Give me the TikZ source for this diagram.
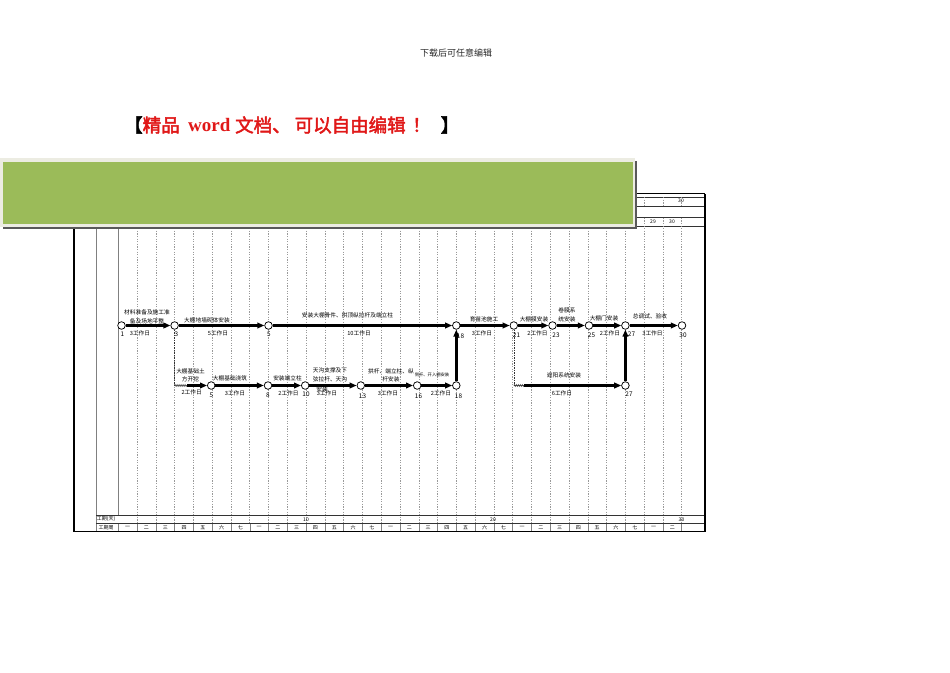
\documentclass[tikz,border=0pt]{standalone}
\usepackage{fontspec}
\newfontfamily\cjk{Noto Sans CJK SC}
\newfontfamily\cjkb[FakeBold=2.5]{Noto Sans CJK SC}
\newfontfamily\tnr{Liberation Serif}
\usetikzlibrary{arrows.meta,decorations.pathmorphing}
\definecolor{bannergreen}{HTML}{9BBB59}
\definecolor{bannerrim}{HTML}{ECECE2}
\definecolor{titlered}{HTML}{E01818}
\definecolor{gridgray}{HTML}{9A9A9A}
\begin{document}
\begin{tikzpicture}[x=1pt,y=-1pt,
  gridline/.style={gridgray, line width=0.55pt, dash pattern=on 1.3pt off 1.3pt},
  framethick/.style={black, line width=1.4pt},
  framethin/.style={black!80, line width=0.55pt},
  colline/.style={gray, line width=0.8pt},
  evt/.style={circle, draw, fill=white, line width=0.75pt, minimum size=7.6pt, inner sep=0pt},
  act/.style={line width=2.4pt, -{Triangle[length=7pt,width=5.6pt]}},
  dummy/.style={black!80, line width=0.6pt, dash pattern=on 1.5pt off 1pt},
  wave/.style={black!80, line width=0.6pt, decorate, decoration={zigzag, segment length=2pt, amplitude=0.9pt}},
  lbl/.style={font=\cjk\fontsize{5.7}{8.6}\selectfont, inner sep=0pt, align=center},
  tinylbl/.style={font=\cjk\fontsize{4.3}{5}\selectfont, inner sep=0pt},
  num/.style={font=\cjk\fontsize{6.4}{7}\selectfont, inner sep=0pt},
  axislbl/.style={font=\cjk\fontsize{5}{6}\selectfont, inner sep=0pt},
  ttl/.style={font=\cjkb\fontsize{18.5}{19}\selectfont, inner sep=0pt, anchor=west, text=titlered}
]
\useasboundingbox (0,0) rectangle (950,672);

% header and title
\node[font=\cjk\fontsize{9}{9}\selectfont, text=black!85] (hdr) at (456,53) {下载后可任意编辑};
\node[ttl, text=black] (tA) at (124,125) {【};
\node[ttl] (tB) at (142.5,125) {精品};
\node[ttl, font=\tnr\bfseries\fontsize{19}{19}\selectfont] (tC) at (188,124.5) {word};
\node[ttl] (tD) at (235,125) {文档、};
\node[ttl] (tE) at (294.5,125) {可以自由编辑};
\node[ttl] (tF) at (412,125) {！};
\node[ttl, text=black] (tG) at (440.5,125) {】};

% table frame
\draw[framethin] (74,197) -- (705,197);
\draw[framethin] (74,206.5) -- (705,206.5);
\draw[framethin] (74,217.7) -- (705,217.7);
\draw[framethin] (74,226) -- (705,226);
\foreach \k in {1,...,30}{
  \draw[gridline] ({118.3+\k*18.78},197) -- ({118.3+\k*18.78},206.5);
  \draw[gridline] ({118.3+\k*18.78},217.7) -- ({118.3+\k*18.78},523.3);
  \draw[gray, line width=0.5pt] ({118.3+\k*18.78},523.3) -- ({118.3+\k*18.78},531);
}
\draw[colline] (96,193.5) -- (96,531);
\draw[colline] (118.7,193.5) -- (118.7,515.5);
\draw[colline] (118.7,523.3) -- (118.7,531);
\draw[framethin] (96,515.5) -- (705,515.5);
\draw[framethin] (96,523.3) -- (705,523.3);
\draw[framethick] (74,193.5) -- (705,193.5);
\draw[framethick] (74,193.5) -- (74,531.5) -- (705,531.5) -- (705,193.5);

% header numbers (visible part)
\node[axislbl] (h30a) at (681,201) {30};
\node[axislbl] (h29) at (653,221.5) {29};
\node[axislbl] (h30b) at (672,221.5) {30};

% bottom axis
\node[axislbl] (gq) at (106,519.4) {工期(天)};
\node[axislbl] (gz) at (106,527.2) {工期周};
\node[axislbl] (d10) at (306,519.4) {10};
\node[axislbl] (d20) at (493,519.4) {20};
\node[axislbl] (d30) at (681.5,519.4) {30};
\foreach \d in {1,...,30}{
  \pgfmathtruncatemacro\w{mod(\d-1,7)}
  \node[axislbl] at ({118.3+(\d-0.5)*18.78},527.3) {\ifcase\w 一\or 二\or 三\or 四\or 五\or 六\or 七\fi};
}

% banner (drawn over the table header)
\fill[black!65] (2.5,160.5) rectangle (637,229.3);
\fill[bannerrim] (0,158) rectangle (635.3,227.3);
\fill[bannergreen] (3,161.5) rectangle (632.5,224.3);

% events, top row
\node[evt] (n1)  at (121.5,325.5) {};
\node[evt] (n3)  at (174.6,325.5) {};
\node[evt] (n5t) at (268.5,325.5) {};
\node[evt] (n18t) at (456.3,325.5) {};
\node[evt] (n21) at (513.8,325.5) {};
\node[evt] (n23) at (552.5,325.5) {};
\node[evt] (n25) at (589,325.5) {};
\node[evt] (n27t) at (625.4,325.5) {};
\node[evt] (n30) at (682,325.5) {};
% events, bottom row
\node[evt] (b5)  at (211.2,385.5) {};
\node[evt] (b8)  at (268,385.5) {};
\node[evt] (b10) at (305.2,385.5) {};
\node[evt] (b13) at (360.8,385.5) {};
\node[evt] (b16) at (417.2,385.5) {};
\node[evt] (b18) at (456.3,385.5) {};
\node[evt] (b27) at (625.4,385.5) {};
\coordinate (c3d) at (174.6,385.5);
\coordinate (c3w) at (187,385.5);
\coordinate (c21d) at (513.8,385.5);
\coordinate (c21w) at (524,385.5);

% activities
\draw[act] (n1) -- (n3);
\draw[act] (n3) -- (n5t);
\draw[act] (n5t) -- (n18t);
\draw[act] (n18t) -- (n21);
\draw[act] (n21) -- (n23);
\draw[act] (n23) -- (n25);
\draw[act] (n25) -- (n27t);
\draw[act] (n27t) -- (n30);
\draw[dummy] (n3) -- (c3d);
\draw[wave] (c3d) -- (c3w);
\draw[act] (c3w) -- (b5);
\draw[act] (b5) -- (b8);
\draw[act] (b8) -- (b10);
\draw[act] (b10) -- (b13);
\draw[act] (b13) -- (b16);
\draw[act] (b16) -- (b18);
\draw[act] (b18) -- (n18t);
\draw[dummy] (n21) -- (c21d);
\draw[wave] (c21d) -- (c21w);
\draw[act] (c21w) -- (b27);
\draw[act] (b27) -- (n27t);

% event numbers
\node[num] at (122.5,334) {1};
\node[num] at (176.5,334) {3};
\node[num] at (269,334.5) {5};
\node[num] at (460.5,336.5) {18};
\node[num] at (516.5,335) {21};
\node[num] at (556,335) {23};
\node[num] at (591.5,335) {25};
\node[num] at (631.5,334.5) {27};
\node[num] at (683,335) {30};
\node[num] at (211.5,395) {5};
\node[num] at (268,395) {8};
\node[num] at (306,394) {10};
\node[num] at (362.5,396) {13};
\node[num] at (418.5,396) {16};
\node[num] at (458.5,396) {18};
\node[num] at (629,394) {27};

% activity labels, top row
\node[lbl] at (147,316.8) {材料准备及施工准\\备及场地平整};
\node[lbl] at (140,333) {3工作日};
\node[lbl] at (207,320) {大棚地墙砌体安装};
\node[lbl] at (218,333) {5工作日};
\node[lbl] at (347.5,315.7) {安装大棚骨件、拱顶纵拉杆及端立柱};
\node[lbl] at (359,333) {10工作日};
\node[lbl] at (484,319.5) {育苗池施工};
\node[lbl] at (482,333) {3工作日};
\node[lbl] at (534,319.3) {大棚膜安装};
\node[lbl] at (537.5,333) {2工作日};
\node[lbl] at (567,314.7) {卷膜系\\统安装};
\node[lbl] at (604,318.5) {大棚门安装};
\node[lbl] at (610,333) {2工作日};
\node[lbl] at (650,316.5) {总调试、验收};
\node[lbl] at (652.5,333) {3工作日};

% activity labels, bottom row
\node[lbl] at (190.5,375.3) {大棚基础土\\方开挖};
\node[lbl] at (191.7,392.5) {2工作日};
\node[lbl] at (230,378) {大棚基础浇筑};
\node[lbl] at (235,393) {3工作日};
\node[lbl] at (287.5,378) {安装端立柱};
\node[lbl] at (288.5,393) {2工作日};
\node[lbl] at (330,374.7) {天沟支撑及下\\弦拉杆、天沟};
\node[lbl] at (322,389) {安装};
\node[lbl] at (327,393.5) {3工作日};
\node[lbl] at (391,375.3) {拱杆、端立柱、纵\\杆安装};
\node[lbl] at (388,393) {3工作日};
\node[tinylbl] at (432,375) {侧杆、开入棚安装};
\node[lbl] at (441,393) {2工作日};
\node[lbl] at (564,375) {遮阳系统安装};
\node[lbl] at (562,393) {6工作日};
\end{tikzpicture}
\end{document}
